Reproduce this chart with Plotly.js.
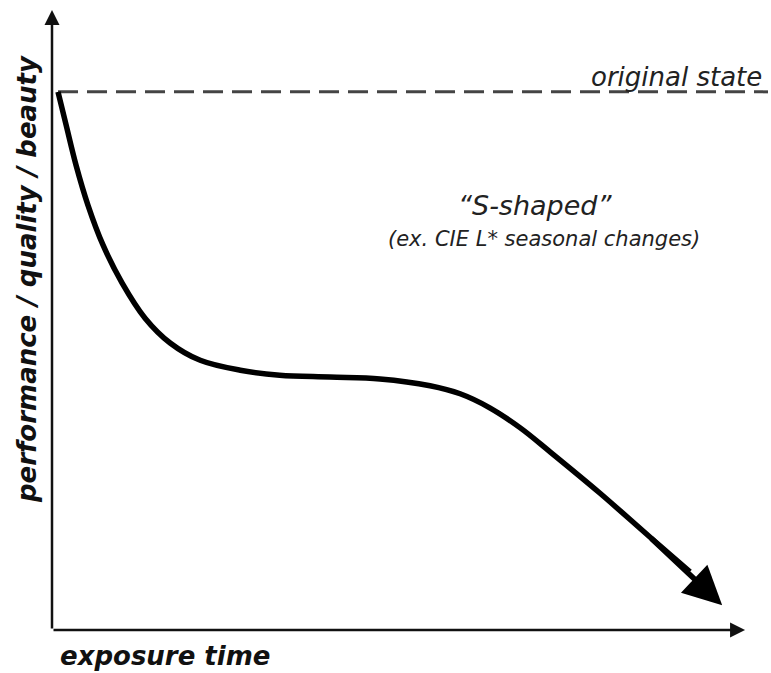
<!DOCTYPE html>
<html>
<head>
<meta charset="utf-8">
<script src="https://cdn.plot.ly/plotly-3.0.1.min.js"></script>
<style>html,body{margin:0;padding:0;background:#fff;}</style>
</head>
<body>
<div id="chart" style="width:771px;height:673px;"></div>
<script>
// Curve (exposure time vs performance), last point = arrow tip
var timeX = [0.84, 1.96, 3.35, 5.03, 7.12, 9.78, 13.0, 16.5, 20.7, 26.3, 31.8, 38.8, 45.8, 52.8, 57.0, 61.2, 65.4, 69.6, 76.5, 83.5, 89.1, 93.6];
var performanceY = [86.8, 81.5, 75.0, 68.5, 62.1, 56.0, 50.3, 46.3, 43.5, 41.9, 41.1, 40.8, 40.5, 39.4, 38.1, 35.8, 32.6, 28.7, 22.1, 15.0, 9.4, 4.0];
// Original state reference level
var originalStateX = [0.84, 100];
var originalStateY = [86.8, 86.8];
// Axis extents (arrow tips)
var xAxisEnd = 96.8;
var yAxisEnd = 100;

var texts = {
  orig: 'original state',
  sTitle: '\u201cS-shaped\u201d',
  sSub: '(ex. CIE L* seasonal changes)',
  xLabel: 'exposure time',
  yLabel: 'performance / quality / beauty'
};

var n = timeX.length;

var traces = [
  {
    x: originalStateX, y: originalStateY, mode: 'lines', type: 'scatter',
    line: {color: '#444', width: 3, dash: '20px,9px'}, hoverinfo: 'skip'
  },
  {
    x: timeX.slice(0, n - 1), y: performanceY.slice(0, n - 1), mode: 'lines', type: 'scatter',
    line: {color: '#000', width: 5.5, shape: 'spline', smoothing: 1}, hoverinfo: 'skip'
  }
];

var italicFont = {family: 'DejaVu Sans', color: '#222'};

var layout = {
  width: 771, height: 673,
  margin: {l: 52, r: 3, t: 10, b: 43, pad: 0},
  paper_bgcolor: '#fff', plot_bgcolor: '#fff',
  showlegend: false,
  xaxis: {range: [0, 100], showgrid: false, zeroline: false, showticklabels: false, ticks: '', showline: false, fixedrange: true},
  yaxis: {range: [0, 100], showgrid: false, zeroline: false, showticklabels: false, ticks: '', showline: false, fixedrange: true},
  annotations: [
    // x axis arrow
    {x: xAxisEnd, y: 0, ax: 0, ay: 0, xref: 'x', yref: 'y', axref: 'x', ayref: 'y', text: '', showarrow: true,
     arrowhead: 2, arrowsize: 1.2, arrowwidth: 2.5, arrowcolor: '#111', standoff: 0, startstandoff: 0},
    // y axis arrow
    {x: 0, y: yAxisEnd, ax: 0, ay: 0, xref: 'x', yref: 'y', axref: 'x', ayref: 'y', text: '', showarrow: true,
     arrowhead: 2, arrowsize: 1.2, arrowwidth: 2.5, arrowcolor: '#111', standoff: 0, startstandoff: 0},
    // curve arrow head (straight final stretch)
    {x: timeX[n - 1], y: performanceY[n - 1], ax: timeX[n - 3], ay: performanceY[n - 3], xref: 'x', yref: 'y', axref: 'x', ayref: 'y',
     text: '', showarrow: true, arrowhead: 2, arrowsize: 1.4, arrowwidth: 5.5, arrowcolor: '#000', standoff: 0, startstandoff: 0},
    {x: 99.4, y: 89.2, xref: 'x', yref: 'y', xanchor: 'right', yanchor: 'middle', showarrow: false,
     text: '<i>' + texts.orig + '</i>', font: Object.assign({size: 26}, italicFont)},
    {x: 67.5, y: 68.5, xref: 'x', yref: 'y', xanchor: 'center', yanchor: 'middle', showarrow: false,
     text: '<i>' + texts.sTitle + '</i>', font: Object.assign({size: 27}, italicFont)},
    {x: 68.7, y: 63.1, xref: 'x', yref: 'y', xanchor: 'center', yanchor: 'middle', showarrow: false,
     text: '<i>' + texts.sSub + '</i>', font: Object.assign({size: 21}, italicFont)},
    {x: 0.008, y: -0.042, xref: 'paper', yref: 'paper', xanchor: 'left', yanchor: 'middle', showarrow: false,
     text: '<b><i>' + texts.xLabel + '</i></b>', font: {family: 'DejaVu Sans', size: 26, color: '#111'}},
    {x: -0.035, y: 0.566, xref: 'paper', yref: 'paper', xanchor: 'center', yanchor: 'middle', showarrow: false, textangle: -90,
     text: '<b><i>' + texts.yLabel + '</i></b>', font: {family: 'DejaVu Sans', size: 26, color: '#111'}}
  ]
};

Plotly.newPlot('chart', traces, layout, {staticPlot: true, displayModeBar: false});
</script>
</body>
</html>
